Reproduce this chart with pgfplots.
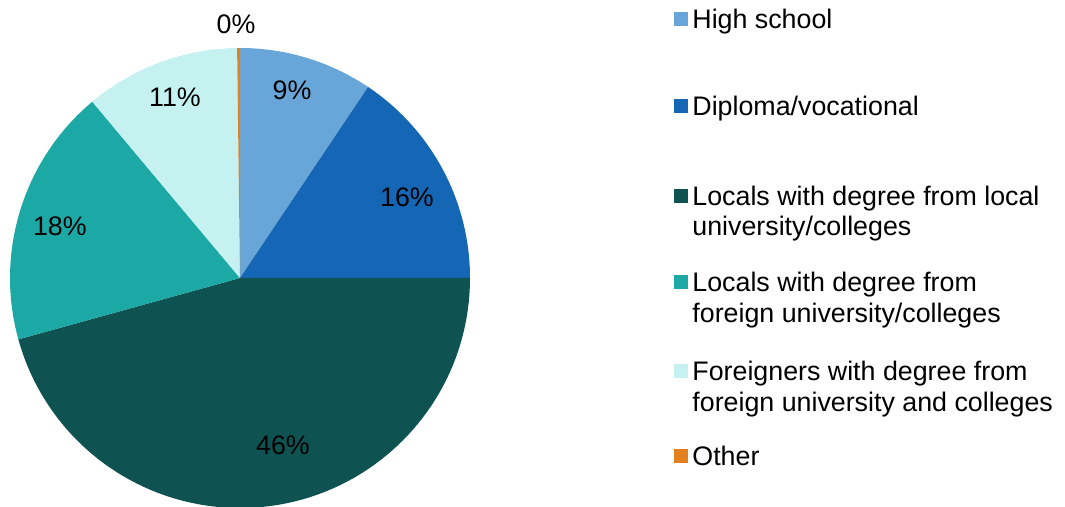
\documentclass[border=0pt]{standalone}
\usepackage{pgfplots}
\pgfplotsset{compat=1.18}
\usepackage{pgfplotstable}
\usepackage{fontspec}
\setmainfont{Liberation Sans}

\definecolor{cHigh}{HTML}{68A6DA}
\definecolor{cDipl}{HTML}{1566B5}
\definecolor{cLocL}{HTML}{0E5351}
\definecolor{cLocF}{HTML}{1CA9A6}
\definecolor{cFor}{HTML}{C5F1F1}
\definecolor{cOth}{HTML}{E5801F}

% share (%), label position (axis units), colour
\pgfplotstableread{
value lx     ly     col
9.4   0.226  0.817  cHigh
15.6  0.726  0.352  cDipl
45.7  0.187 -0.726  cLocL
18.2 -0.783  0.226  cLocF
10.9 -0.283  0.787  cFor
0.2  -0.017  1.104  cOth
}\piedata

\begin{document}
\begin{tikzpicture}[every node/.style={font=\fontsize{13.4pt}{15pt}\selectfont, inner sep=0pt}]
\useasboundingbox (0,0) rectangle (532.5pt,253.5pt);
\begin{axis}[at={(120pt,114.5pt)}, anchor=center,
    scale only axis, width=230pt, height=230pt,
    xmin=-1, xmax=1, ymin=-1, ymax=1,
    hide axis, clip=false]
\pgfplotsextra{
  \pgfplotstablegetrowsof{\piedata}
  \pgfmathtruncatemacro\nrows{\pgfplotsretval-1}
  \gdef\cum{0}
  \foreach \i in {0,...,\nrows}{
    \pgfplotstablegetelem{\i}{value}\of\piedata \let\v\pgfplotsretval
    \pgfplotstablegetelem{\i}{col}\of\piedata \let\slicecol\pgfplotsretval
    \pgfmathsetmacro\a{90-3.6*\cum}
    \pgfmathsetmacro\b{90-3.6*(\cum+\v)}
    \fill[\slicecol] (axis cs:0,0) -- (axis cs:{cos(\a)},{sin(\a)})
      arc[start angle=\a, end angle=\b, radius=115pt] -- cycle;
    \pgfmathsetmacro\newcum{\cum+\v}
    \xdef\cum{\newcum}
  }
  \foreach \i in {0,...,\nrows}{
    \pgfplotstablegetelem{\i}{value}\of\piedata \let\v\pgfplotsretval
    \pgfplotstablegetelem{\i}{lx}\of\piedata \let\lx\pgfplotsretval
    \pgfplotstablegetelem{\i}{ly}\of\piedata \let\ly\pgfplotsretval
    \pgfmathtruncatemacro\r{round(\v)}
    \node at (axis cs:\lx,\ly) {\r\%};
  }
}
\end{axis}
% legend, in pixel units of the reference
\begin{scope}[x=0.5pt, y=-0.5pt, shift={(0,253.5pt)}]
  \def\entry#1#2#3{%
    \fill[#1] (674,#2-16.5) rectangle (688,#2-2.5);
    \node[anchor=base west] at (692,#2) {#3};}
  \def\line#1#2{\node[anchor=base west] at (692,#1) {#2};}
  \entry{cHigh}{29}{High school}
  \entry{cDipl}{116}{Diploma/vocational}
  \entry{cLocL}{206}{Locals with degree from local}
  \line{236}{university/colleges}
  \entry{cLocF}{292}{Locals with degree from}
  \line{323}{foreign university/colleges}
  \entry{cFor}{381}{Foreigners with degree from}
  \line{412}{foreign university and colleges}
  \entry{cOth}{466}{Other}
\end{scope}
\end{tikzpicture}
\end{document}
